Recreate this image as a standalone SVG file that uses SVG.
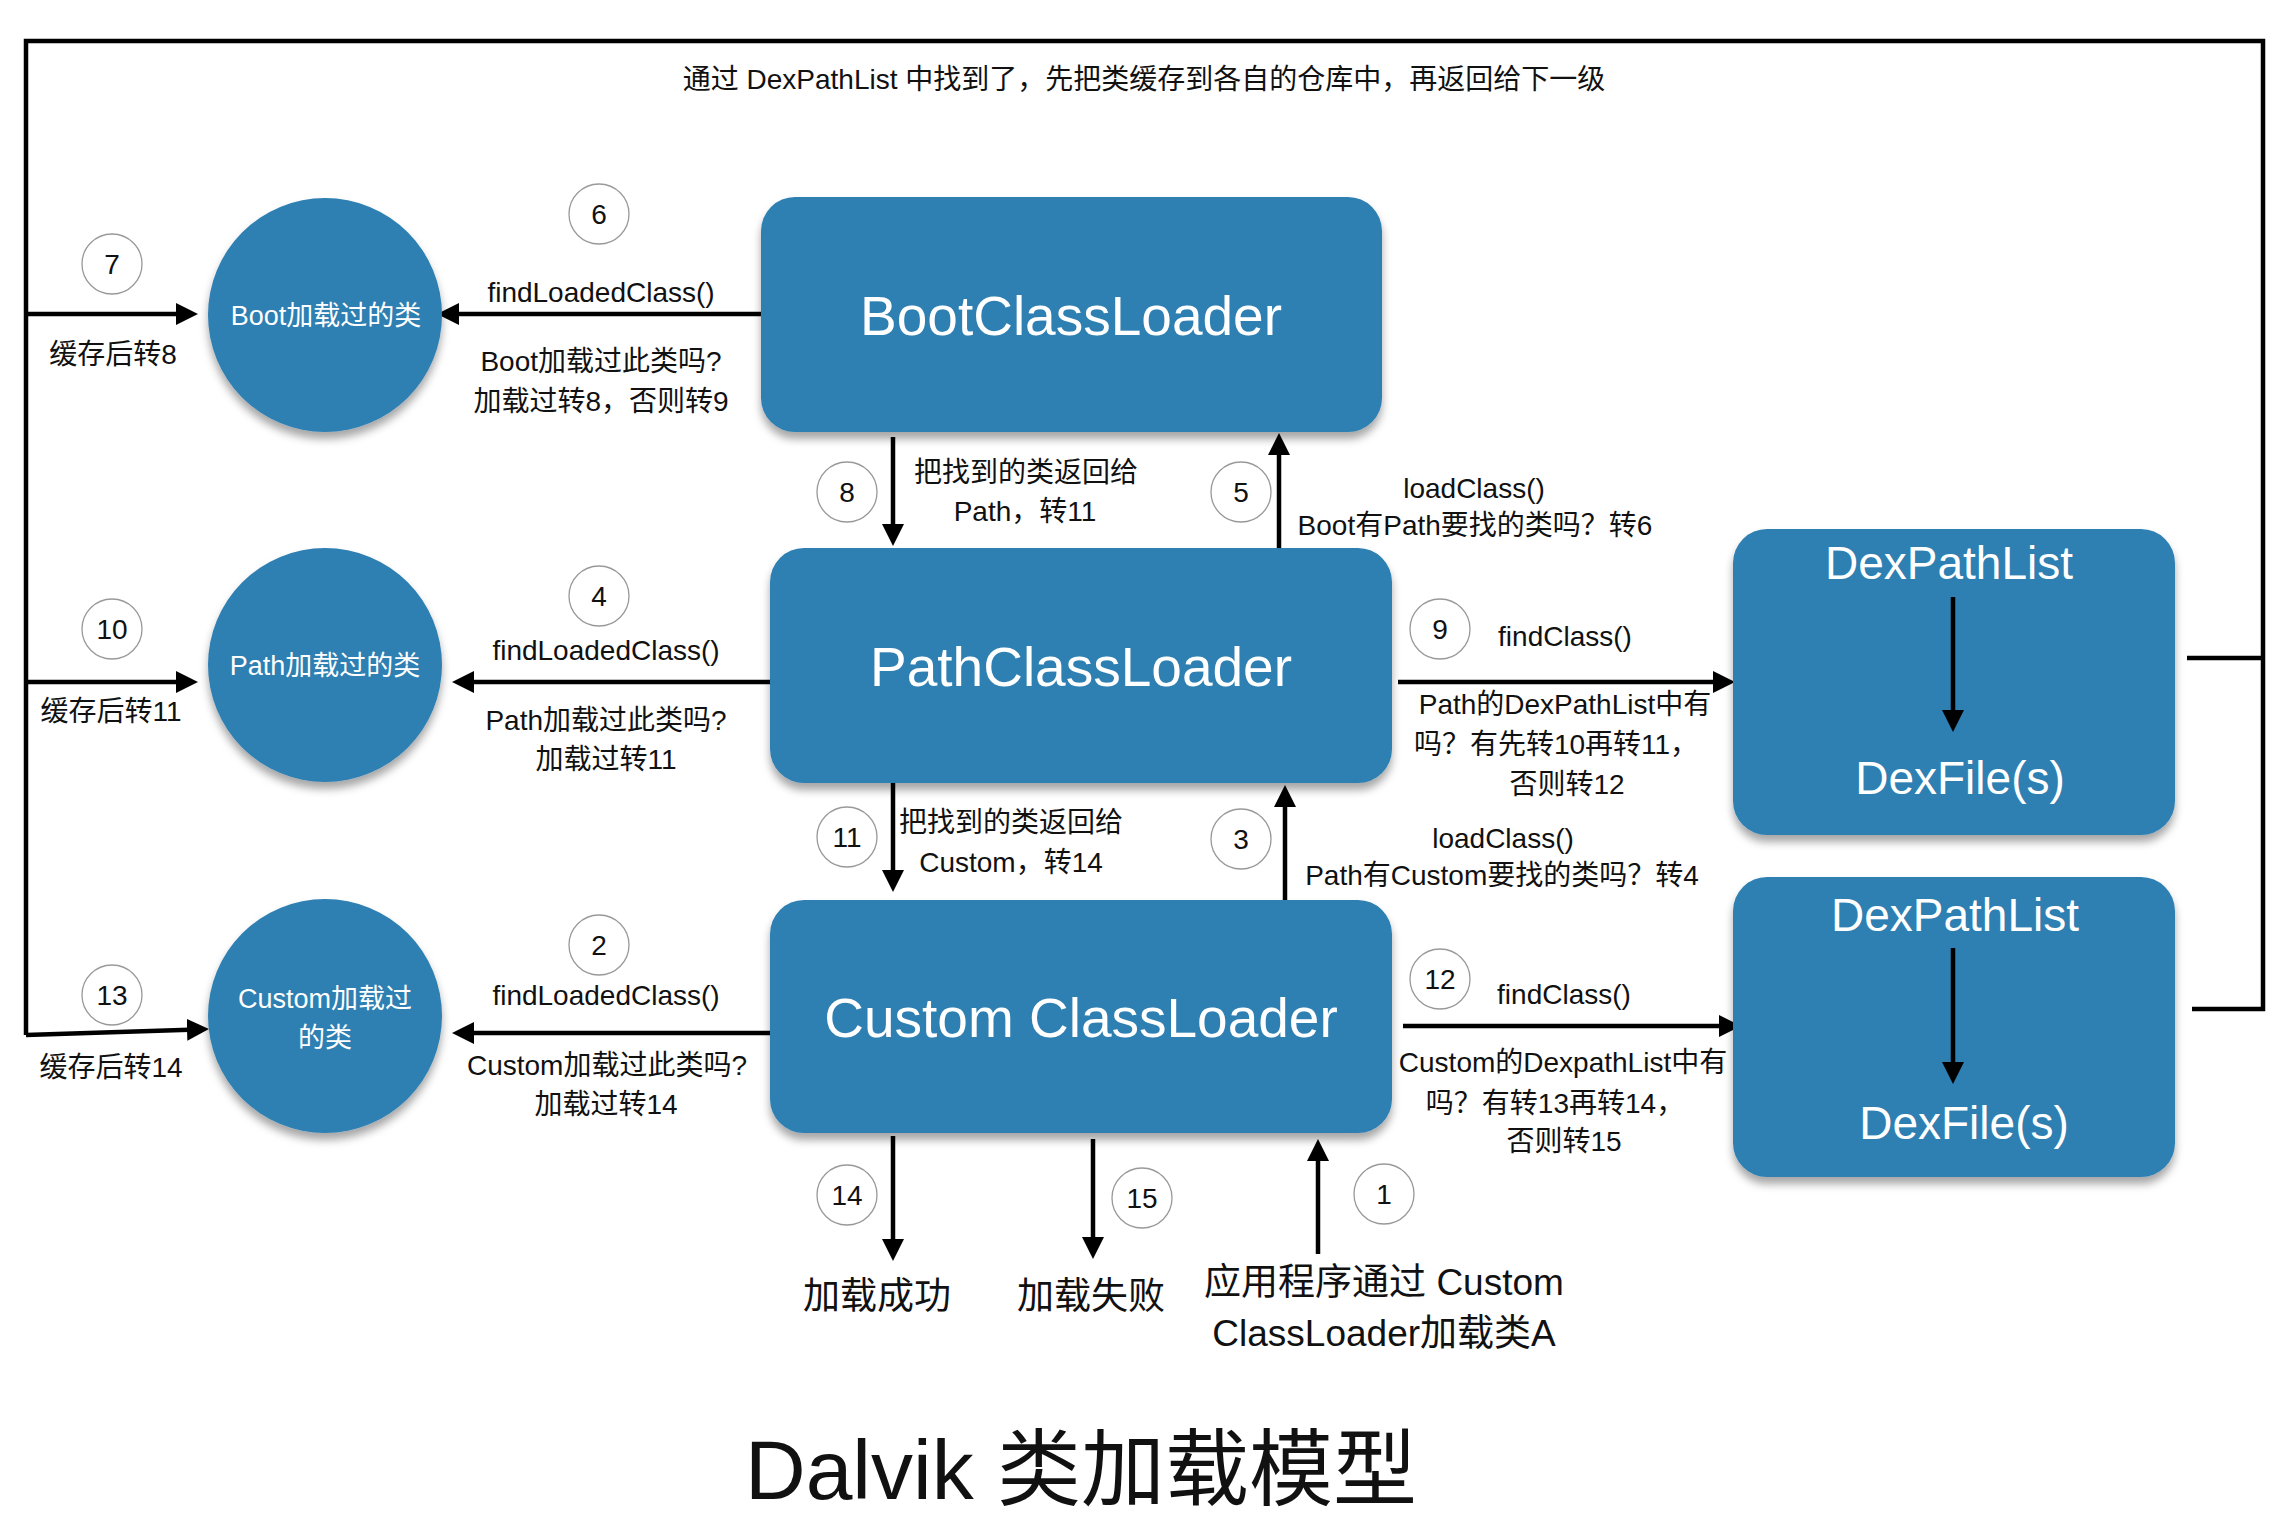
<svg xmlns="http://www.w3.org/2000/svg" width="2294" height="1538" viewBox="0 0 2294 1538">
<defs>
<filter id="sh" x="-10%" y="-10%" width="120%" height="130%">
<feDropShadow dx="0" dy="7" stdDeviation="4" flood-color="#000" flood-opacity="0.35"/>
</filter>
<marker id="ah" markerUnits="userSpaceOnUse" markerWidth="22" markerHeight="22" refX="10" refY="11" orient="auto">
<path d="M0,0 L22,11 L0,22 z" fill="#000"/>
</marker>
</defs>
<style>
.box{fill:#2f7fb2;filter:url(#sh)}
.wt{fill:#fff;font-family:"Liberation Sans","Noto Sans CJK SC",sans-serif;text-anchor:middle}
.lb{fill:#111;font-family:"Liberation Sans","Noto Sans CJK SC",sans-serif;font-size:28px;text-anchor:middle}
.big{font-size:37px}
.num circle{fill:#fff;stroke:#999;stroke-width:1.3}
.ln{stroke:#000;stroke-width:4.5;fill:none}
.ar{marker-end:url(#ah)}
</style>
<rect width="2294" height="1538" fill="#fff"/>

<g id="connectors">
<path class="ln" d="M26,1035 V41 H2263 V1009 H2192" stroke-width="5"/>
<path class="ln" d="M2187,658 H2263" stroke-width="5"/>
<path class="ln ar" d="M26,314 H186"/>
<path class="ln ar" d="M26,682 H186"/>
<path class="ln ar" d="M26,1035 L197,1029.4"/>
<path class="ln ar" d="M761,314 H449"/>
<path class="ln ar" d="M770,682 H464"/>
<path class="ln ar" d="M770,1033 H464"/>
<path class="ln ar" d="M893,437 V534"/>
<path class="ln ar" d="M1279,548 V445"/>
<path class="ln ar" d="M893,783 V880"/>
<path class="ln ar" d="M1285,900 V797"/>
<path class="ln ar" d="M1398,682 H1723"/>
<path class="ln ar" d="M1403,1026 H1729"/>
<path class="ln ar" d="M893,1136 V1249"/>
<path class="ln ar" d="M1093,1139 V1247"/>
<path class="ln ar" d="M1318,1254 V1151"/>
</g>

<g id="boot-loader"><rect class="box" x="761" y="197" width="621" height="235" rx="34"/><text class="wt" x="1071" y="335" font-size="55">BootClassLoader</text></g>
<g id="path-loader"><rect class="box" x="770" y="548" width="622" height="235" rx="34"/><text class="wt" x="1081" y="686" font-size="55">PathClassLoader</text></g>
<g id="custom-loader"><rect class="box" x="770" y="900" width="622" height="233" rx="34"/><text class="wt" x="1081" y="1037" font-size="55">Custom ClassLoader</text></g>

<g id="dexpathlist-1"><rect class="box" x="1733" y="529" width="442" height="306" rx="34"/><text class="wt" x="1949" y="579" font-size="46">DexPathList</text><path class="ln ar" d="M1953,597 V720"/><text class="wt" x="1960" y="794" font-size="46">DexFile(s)</text></g>
<g id="dexpathlist-2"><rect class="box" x="1733" y="877" width="442" height="300" rx="34"/><text class="wt" x="1955" y="931" font-size="46">DexPathList</text><path class="ln ar" d="M1953,948 V1072"/><text class="wt" x="1964" y="1139" font-size="46">DexFile(s)</text></g>

<g id="boot-cache"><circle cx="325" cy="315" r="117" fill="#2f7fb2" filter="url(#sh)"/><text class="wt" x="326" y="325" font-size="27">Boot加载过的类</text></g>
<g id="path-cache"><circle cx="325" cy="665" r="117" fill="#2f7fb2" filter="url(#sh)"/><text class="wt" x="325" y="675" font-size="27">Path加载过的类</text></g>
<g id="custom-cache"><circle cx="325" cy="1016" r="117" fill="#2f7fb2" filter="url(#sh)"/><text class="wt" x="325" y="1008" font-size="27">Custom加载过</text><text class="wt" x="325" y="1047" font-size="27">的类</text></g>

<g id="labels">
<text class="lb" x="1144" y="89">通过 DexPathList 中找到了，先把类缓存到各自的仓库中，再返回给下一级</text>
<text class="lb" x="601" y="302">findLoadedClass()</text>
<text class="lb" x="601" y="371">Boot加载过此类吗?</text>
<text class="lb" x="601" y="411">加载过转8，否则转9</text>
<text class="lb" x="113" y="364">缓存后转8</text>
<text class="lb" x="606" y="660">findLoadedClass()</text>
<text class="lb" x="606" y="730">Path加载过此类吗?</text>
<text class="lb" x="606" y="769">加载过转11</text>
<text class="lb" x="111" y="721">缓存后转11</text>
<text class="lb" x="606" y="1005">findLoadedClass()</text>
<text class="lb" x="607" y="1075">Custom加载过此类吗?</text>
<text class="lb" x="606" y="1114">加载过转14</text>
<text class="lb" x="111" y="1077">缓存后转14</text>
<text class="lb" x="1026" y="482">把找到的类返回给</text>
<text class="lb" x="1025" y="521">Path，转11</text>
<text class="lb" x="1011" y="832">把找到的类返回给</text>
<text class="lb" x="1011" y="872">Custom，转14</text>
<text class="lb" x="1474" y="498">loadClass()</text>
<text class="lb" x="1475" y="535">Boot有Path要找的类吗？转6</text>
<text class="lb" x="1565" y="646">findClass()</text>
<text class="lb" x="1565" y="714">Path的DexPathList中有</text>
<text class="lb" x="1556" y="754">吗？有先转10再转11，</text>
<text class="lb" x="1567" y="794">否则转12</text>
<text class="lb" x="1503" y="848">loadClass()</text>
<text class="lb" x="1502" y="885">Path有Custom要找的类吗？转4</text>
<text class="lb" x="1564" y="1004">findClass()</text>
<text class="lb" x="1563" y="1072">Custom的DexpathList中有</text>
<text class="lb" x="1555" y="1113">吗？有转13再转14，</text>
<text class="lb" x="1564" y="1151">否则转15</text>
<text class="lb big" x="877" y="1309">加载成功</text>
<text class="lb big" x="1091" y="1309">加载失败</text>
<text class="lb big" x="1384" y="1295">应用程序通过 Custom</text>
<text class="lb big" x="1384" y="1346">ClassLoader加载类A</text>
<text class="lb" x="1081" y="1499" font-size="84" style="font-size:84px">Dalvik 类加载模型</text>
</g>

<g id="step-numbers" class="num">
<g><circle cx="599" cy="214" r="30"/><text class="lb" x="599" y="224">6</text></g>
<g><circle cx="112" cy="264" r="30"/><text class="lb" x="112" y="274">7</text></g>
<g><circle cx="599" cy="596" r="30"/><text class="lb" x="599" y="606">4</text></g>
<g><circle cx="112" cy="629" r="30"/><text class="lb" x="112" y="639">10</text></g>
<g><circle cx="599" cy="945" r="30"/><text class="lb" x="599" y="955">2</text></g>
<g><circle cx="112" cy="995" r="30"/><text class="lb" x="112" y="1005">13</text></g>
<g><circle cx="847" cy="492" r="30"/><text class="lb" x="847" y="502">8</text></g>
<g><circle cx="1241" cy="492" r="30"/><text class="lb" x="1241" y="502">5</text></g>
<g><circle cx="847" cy="837" r="30"/><text class="lb" x="847" y="847">11</text></g>
<g><circle cx="1241" cy="839" r="30"/><text class="lb" x="1241" y="849">3</text></g>
<g><circle cx="1440" cy="629" r="30"/><text class="lb" x="1440" y="639">9</text></g>
<g><circle cx="1440" cy="979" r="30"/><text class="lb" x="1440" y="989">12</text></g>
<g><circle cx="847" cy="1195" r="30"/><text class="lb" x="847" y="1205">14</text></g>
<g><circle cx="1142" cy="1198" r="30"/><text class="lb" x="1142" y="1208">15</text></g>
<g><circle cx="1384" cy="1194" r="30"/><text class="lb" x="1384" y="1204">1</text></g>
</g>
</svg>
